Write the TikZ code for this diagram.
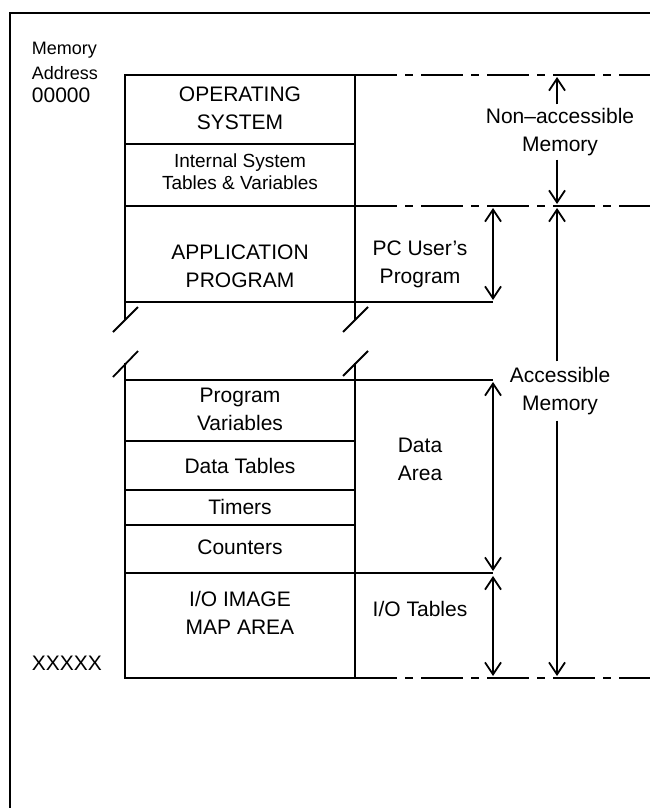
\documentclass[tikz,border=0pt]{standalone}
\usetikzlibrary{arrows.meta}
\usepackage{fontspec}
\setmainfont{Liberation Sans}

\begin{document}
\begin{tikzpicture}[x=1pt, y=-1pt, line width=1.8pt,
        txt/.style={font=\fontsize{21}{28}\selectfont, align=center, inner sep=0pt},
        smalltxt/.style={font=\fontsize{19}{22}\selectfont, align=center, inner sep=0pt},
        barb/.style={-{Straight Barb[length=12pt,width=16pt]}},
        dimarrow/.style={{Straight Barb[length=12pt,width=16pt]}-{Straight Barb[length=12pt,width=16pt]}},
        level/.style={dash pattern=on 42pt off 8pt on 8pt off 8pt}]
        \useasboundingbox (0,0) rectangle (650,808);

        % frame
        \draw (10,808) -- (10,13) -- (650,13);

        % upper part of the map
        \draw (125,320) -- (125,75) -- (355,75) -- (355,320);
        \draw (125,144) -- (355,144);
        \draw (125,206) -- (355,206);
        \draw (125,302) -- (493,302);

        % break marks
        \draw (113,332) -- (138,307)  (113,377) -- (138,351);
        \draw (343,332) -- (368,307)  (343,376) -- (368,351);

        % lower part of the map
        \draw (125,363) -- (125,678) -- (355,678) -- (355,363);
        \draw (125,380) -- (493,380);
        \draw (125,441) -- (355,441);
        \draw (125,490) -- (355,490);
        \draw (125,525) -- (355,525);
        \draw (125,573) -- (493,573);

        % address levels
        \path[level]
            (355,75) edge (650,75)
            (355,206) edge (650,206)
            (355,678) edge (650,678);

        % contents
        \node[txt] (os) at (240,108) {OPERATING\\SYSTEM};
        \node[smalltxt] (ist) at (240,172) {Internal System\\Tables \& Variables};
        \node[txt] (app) at (240,266) {APPLICATION\\PROGRAM};
        \node[txt] (pvar) at (240,409) {Program\\Variables};
        \node[txt] (dtab) at (240,466) {Data Tables};
        \node[txt] (tmr) at (240,507) {Timers};
        \node[txt] (cnt) at (240,547) {Counters};
        \node[txt] (iomap) at (240,613) {I/O IMAGE\\MAP AREA};

        % addresses
        \node[smalltxt, anchor=west, align=left, font=\fontsize{18}{25}\selectfont] (addr) at (31,61) {Memory\\Address};
        \node[txt, anchor=west] (first) at (31,95) {00000};
        \node[txt, anchor=west] (last) at (31,663) {XXXXX};

        % areas
        \node[txt] (user) at (420,264) {PC User's\\Program};
        \node[txt] (data) at (420,459) {Data\\Area};
        \node[txt] (iotab) at (420,609) {I/O Tables};
        \node[txt, inner sep=3pt] (nacc) at (560,132) {Non--accessible\\Memory};
        \node[txt, inner sep=5pt] (acc) at (560,391) {Accessible\\Memory};

        \coordinate (naTop) at (557,77);
        \coordinate (naBot) at (557,204);
        \coordinate (acTop) at (557,208);
        \coordinate (acBot) at (557,676);

        \draw[barb] (nacc.north -| naTop) -- (naTop);
        \draw[barb] (nacc.south -| naBot) -- (naBot);
        \draw[barb] (acc.north -| acTop) -- (acTop);
        \draw[barb] (acc.south -| acBot) -- (acBot);

        \draw[dimarrow] (493,208) -- (493,300);
        \draw[dimarrow] (493,382) -- (493,571);
        \draw[dimarrow] (493,576) -- (493,676);

\end{tikzpicture}
\end{document}
